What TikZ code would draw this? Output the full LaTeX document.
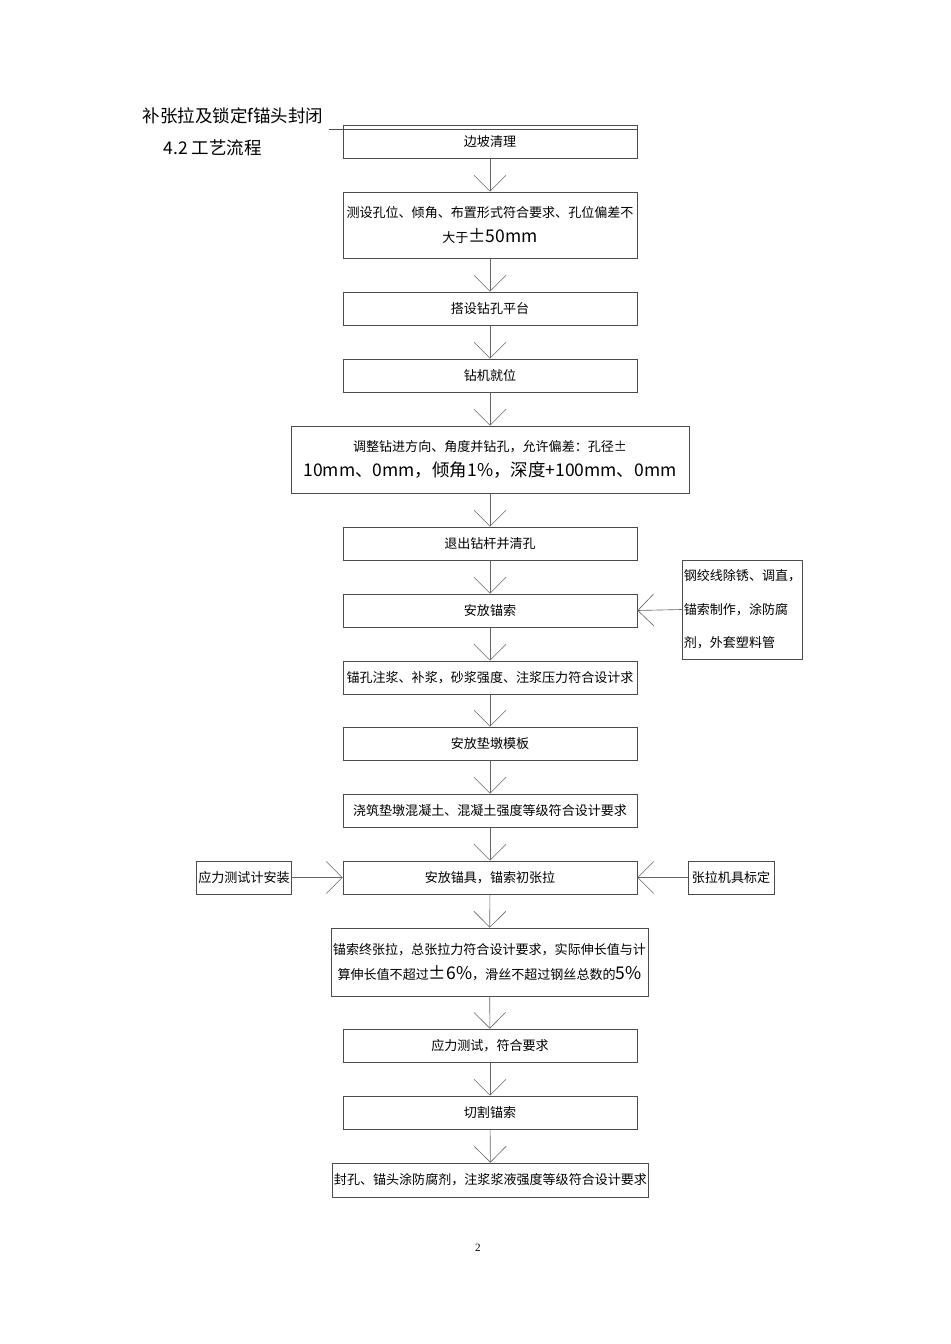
\documentclass[tikz,border=0pt]{standalone}
\usepackage{fontspec}
\setmainfont{Liberation Serif}
\newfontfamily\cjk{Noto Sans CJK SC}
\usetikzlibrary{arrows.meta,positioning}
\tikzset{step box/.style={draw=black!70,thin,align=center,inner sep=1pt,font=\cjk\fontsize{8.2}{16}\selectfont},
  flow/.style={draw=black!60,thin,-{Straight Barb[length=10pt,width=20pt]}}}

\begin{document}
\begin{tikzpicture}[x=0.0221cm,y=-0.0221cm]
    \useasboundingbox (0,0) rectangle (950,1344);
    \node[anchor=west,font=\cjk\fontsize{11}{14}\selectfont] (head) at (137,116) {补张拉及锁定f锚头封闭};
    \node[anchor=west,font=\cjk\fontsize{11}{14}\selectfont] (sect) at (158,148) {4.2 工艺流程};

    \node[step box,minimum width=294*0.0221cm,minimum height=33*0.0221cm] (1) at (490,141.5) {边坡清理};
    \draw[black!70,thin] (head.south east) -- (head.south east -| 1.east);
    \node[step box,minimum width=294*0.0221cm,minimum height=66*0.0221cm] (2) at (490,225) {测设孔位、倾角、布置形式符合要求、孔位偏差不\\大于{\fontsize{11}{16}\selectfont ±50mm}};
    \node[step box,minimum width=294*0.0221cm,minimum height=33*0.0221cm] (3) at (490,308.5) {搭设钻孔平台};
    \node[step box,minimum width=294*0.0221cm,minimum height=33*0.0221cm] (4) at (490,375.5) {钻机就位};
    \node[step box,minimum width=398*0.0221cm,minimum height=67*0.0221cm] (5) at (490,459.5) {调整钻进方向、角度并钻孔，允许偏差：孔径±\\{\fontsize{11}{16}\selectfont 10mm、0mm，倾角1\%，深度+100mm、0mm}};
    \node[step box,minimum width=294*0.0221cm,minimum height=33*0.0221cm] (6) at (490,543.5) {退出钻杆并清孔};
    \node[step box,minimum width=294*0.0221cm,minimum height=33*0.0221cm] (7) at (490,610.5) {安放锚索};
    \node[step box,minimum width=294*0.0221cm,minimum height=33*0.0221cm] (8) at (490,677.5) {锚孔注浆、补浆，砂浆强度、注浆压力符合设计求};
    \node[step box,minimum width=294*0.0221cm,minimum height=33*0.0221cm] (9) at (490,743.5) {安放垫墩模板};
    \node[step box,minimum width=294*0.0221cm,minimum height=33*0.0221cm] (10) at (490,810.5) {浇筑垫墩混凝土、混凝土强度等级符合设计要求};
    \node[step box,minimum width=294*0.0221cm,minimum height=33*0.0221cm] (11) at (490,877.5) {安放锚具，锚索初张拉};
    \node[step box,minimum width=317*0.0221cm,minimum height=68*0.0221cm] (12) at (489.5,962) {锚索终张拉，总张拉力符合设计要求，实际伸长值与计\\算伸长值不超过{\fontsize{11}{16}\selectfont ±6\%}，滑丝不超过钢丝总数的{\fontsize{11}{16}\selectfont 5\%}};
    \node[step box,minimum width=294*0.0221cm,minimum height=33*0.0221cm] (13) at (490,1045.5) {应力测试，符合要求};
    \node[step box,minimum width=294*0.0221cm,minimum height=33*0.0221cm] (14) at (490,1112.5) {切割锚索};
    \node[step box,minimum width=315*0.0221cm,minimum height=34*0.0221cm] (15) at (490.5,1180) {封孔、锚头涂防腐剂，注浆浆液强度等级符合设计要求};

    \node[step box,minimum width=109*0.0221cm,minimum height=99*0.0221cm,align=left,font=\cjk\fontsize{8.2}{21}\selectfont] (wire) at (742.5,609.5) {钢绞线除锈、调直，\\锚索制作，涂防腐\\剂，外套塑料管};
    \node[step box,minimum width=94*0.0221cm,minimum height=33*0.0221cm] (gauge) at (244,877.5) {应力测试计安装};
    \node[step box,minimum width=86*0.0221cm,minimum height=33*0.0221cm] (jack) at (731,877.5) {张拉机具标定};

    \foreach \a/\b in {1/2,2/3,3/4,4/5,5/6,6/7,7/8,8/9,9/10,10/11,11/12,12/13,13/14,14/15}
        \draw[flow] (\a) -- (\b);
    \draw[flow] (wire.west) -- (7.east);
    \draw[flow] (gauge) -- (11);
    \draw[flow] (jack) -- (11);

    \node[font=\fontsize{7}{8}\selectfont] (page) at (478,1248) {2};
\end{tikzpicture}
\end{document}
